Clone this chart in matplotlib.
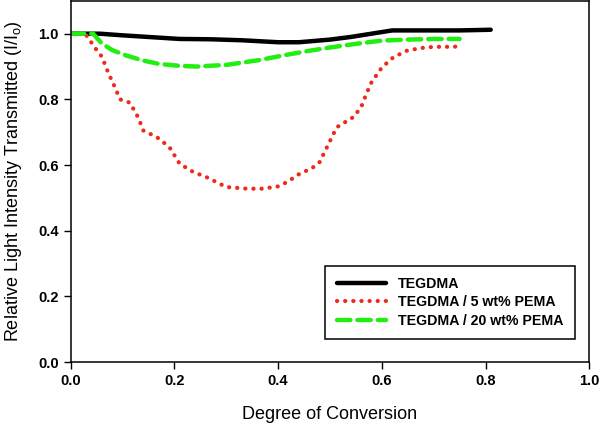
import matplotlib.pyplot as plt

plt.rcParams['font.family'] = ['Liberation Sans', 'DejaVu Sans']

# Данные
x_tegdma = [0.0, 0.02, 0.056, 0.10, 0.15, 0.21, 0.27, 0.33, 0.40, 0.44, 0.50, 0.54,
            0.58, 0.62, 0.66, 0.70, 0.75, 0.81]
y_tegdma = [1.0, 1.0, 1.0, 0.995, 0.99, 0.984, 0.983, 0.98, 0.974, 0.974, 0.982, 0.99,
            1.0, 1.01, 1.01, 1.01, 1.01, 1.012]

x_pema5 = [0.0, 0.02, 0.03, 0.05, 0.06, 0.072, 0.085, 0.095, 0.114, 0.13, 0.14, 0.166,
           0.19, 0.21, 0.236, 0.262, 0.30, 0.34, 0.37, 0.40, 0.417, 0.442, 0.465, 0.48,
           0.494, 0.513, 0.545, 0.56, 0.57, 0.58, 0.60, 0.622, 0.648, 0.674, 0.70, 0.738, 0.75]
y_pema5 = [1.0, 1.0, 0.995, 0.95, 0.93, 0.882, 0.837, 0.80, 0.79, 0.745, 0.705, 0.685,
           0.655, 0.604, 0.579, 0.563, 0.533, 0.528, 0.528, 0.535, 0.548, 0.574, 0.59, 0.609,
           0.654, 0.715, 0.746, 0.776, 0.816, 0.852, 0.897, 0.928, 0.948, 0.956, 0.96, 0.96, 0.962]

x_pema20 = [0.0, 0.02, 0.043, 0.06, 0.08, 0.108, 0.14, 0.17, 0.21, 0.243, 0.30, 0.365,
            0.41, 0.46, 0.50, 0.545, 0.60, 0.65, 0.70, 0.75]
y_pema20 = [1.0, 1.0, 1.0, 0.97, 0.95, 0.933, 0.918, 0.908, 0.902, 0.90, 0.905, 0.92,
            0.934, 0.948, 0.958, 0.968, 0.979, 0.982, 0.984, 0.984]

fig = plt.figure(figsize=(6, 4.29), dpi=100)
ax = fig.add_axes([0.118, 0.156, 0.864, 0.842])

ax.plot(x_tegdma, y_tegdma, color='black', lw=3.2, label='TEGDMA', solid_capstyle='round')
ax.plot(x_pema5, y_pema5, color='#ee2a1a', lw=3.0, linestyle=(0, (0.05, 1.9)),
        dash_capstyle='round', label='TEGDMA / 5 wt% PEMA')
ax.plot(x_pema20, y_pema20, color='#22ee11', lw=3.2, linestyle=(0, (3, 1.6)),
        dash_capstyle='round', label='TEGDMA / 20 wt% PEMA')

ax.set_xlim(0, 1.0)
ax.set_ylim(0, 1.1)
ax.set_xticks([0.0, 0.2, 0.4, 0.6, 0.8, 1.0])
ax.set_yticks([0.0, 0.2, 0.4, 0.6, 0.8, 1.0])
ax.tick_params(direction='out', length=5, width=1, labelsize=10.5, top=False, right=False)
for lab in ax.get_xticklabels() + ax.get_yticklabels():
    lab.set_fontweight('bold')
ax.set_xlabel('Degree of Conversion', fontsize=13, labelpad=13)
ax.set_ylabel('Relative Light Intensity Transmitted (I/I$_\\mathregular{o}$)',
              fontsize=13, labelpad=10)
for s in ax.spines.values():
    s.set_linewidth(1.1)

leg = ax.legend(loc='lower right', bbox_to_anchor=(0.973, 0.064), borderaxespad=0,
                fancybox=False, edgecolor='black', framealpha=1, handlelength=3.5,
                handletextpad=0.85, prop={'weight': 'bold', 'size': 10.2},
                borderpad=0.8, labelspacing=0.3)
leg.get_frame().set_linewidth(1.1)

plt.savefig('out.png', dpi=100)
plt.close(fig)
